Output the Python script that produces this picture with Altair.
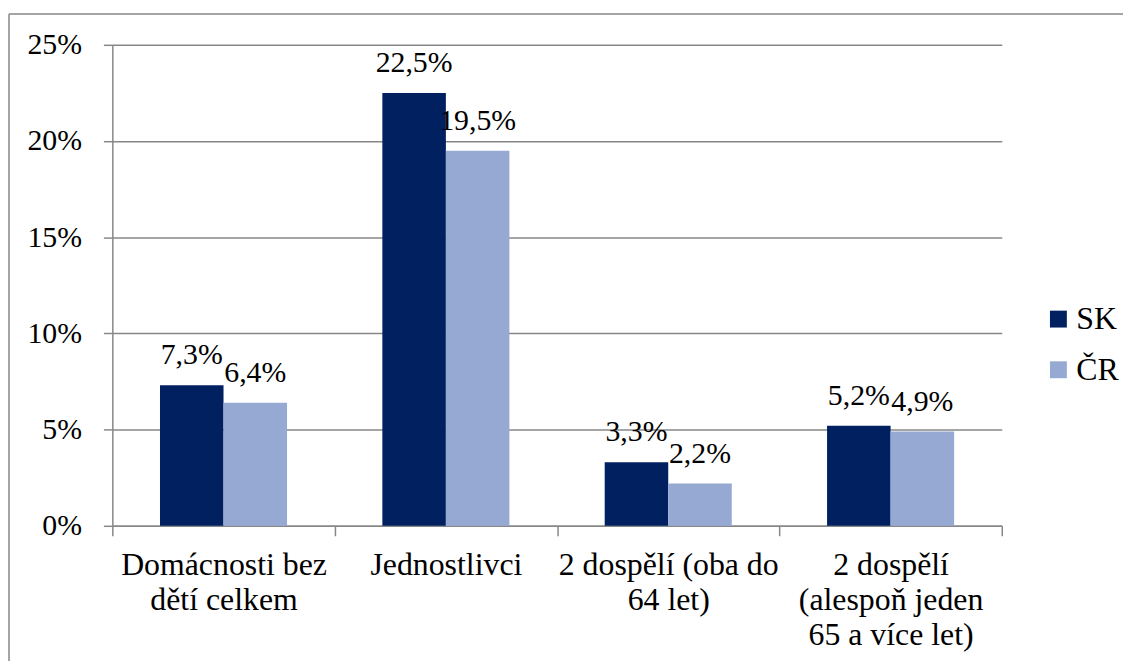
import altair as alt
import pandas as pd

categories = [
    "Domácnosti bez|dětí celkem",
    "Jednostlivci",
    "2 dospělí (oba do|64 let)",
    "2 dospělí|(alespoň jeden|65 a více let)",
]
series = ["SK", "ČR"]
sk_values = [0.073, 0.225, 0.033, 0.052]
cr_values = [0.064, 0.195, 0.022, 0.049]
colors = ["#002060", "#95A9D3"]

rows = []
for c, v in zip(categories, sk_values):
    rows.append({"kat": c, "zeme": "SK", "hodnota": v})
for c, v in zip(categories, cr_values):
    rows.append({"kat": c, "zeme": "ČR", "hodnota": v})
df = pd.DataFrame(rows)

FONT = "Liberation Serif"
GRAY = "#878787"

x_enc = alt.X("kat:N", sort=categories, title=None,
              scale=alt.Scale(paddingInner=0, paddingOuter=0),
              axis=alt.Axis(labelAngle=0, labelExpr="split(datum.label, '|')",
                            labelLineHeight=35, labelFontSize=32, labelFont=FONT,
                            labelColor="black", labelPadding=14, labelLimit=0,
                            tickBand="extent", tickSize=10, tickColor=GRAY, tickWidth=1.5,
                            domainColor=GRAY, domainWidth=1.5, grid=False))
xo_enc = alt.XOffset("zeme:N", sort=series,
                     scale=alt.Scale(paddingInner=0, paddingOuter=0.75))
y_scale = alt.Scale(domain=[0, 0.25])

bars = alt.Chart(df).mark_bar().encode(
    x=x_enc,
    xOffset=xo_enc,
    y=alt.Y("hodnota:Q", scale=y_scale, title=None,
            axis=alt.Axis(format=".0%", values=[0, 0.05, 0.1, 0.15, 0.2, 0.25],
                          labelFontSize=30, labelFont=FONT, labelColor="black",
                          labelPadding=22, tickSize=9, tickColor=GRAY, tickWidth=1.5,
                          domainColor=GRAY, domainWidth=1.5,
                          gridColor=GRAY, gridWidth=1.5)),
    color=alt.Color("zeme:N", sort=series,
                    scale=alt.Scale(domain=series, range=colors),
                    legend=alt.Legend(title=None, orient="none", legendX=936, legendY=260,
                                      symbolType="square", symbolSize=289,
                                      symbolStrokeWidth=0,
                                      labelFontSize=32, labelFont=FONT, labelColor="black",
                                      labelOffset=2, rowPadding=19)),
)

labels = alt.Chart(df).transform_calculate(
    popis="replace(format(datum.hodnota, '.1%'), '.', ',')"
).mark_text(
    baseline="alphabetic", dy=-21, fontSize=30, font=FONT, color="black"
).encode(
    x=alt.X("kat:N", sort=categories),
    xOffset=alt.XOffset("zeme:N", sort=series),
    y=alt.Y("hodnota:Q", scale=y_scale),
    text=alt.Text("popis:N"),
)

frame_left = alt.Chart(pd.DataFrame({"a": [0]})).mark_rule(color=GRAY, strokeWidth=1.5).encode(
    x=alt.value(-104), y=alt.value(-31), y2=alt.value(700)
)
frame_top = alt.Chart(pd.DataFrame({"a": [0]})).mark_rule(color=GRAY, strokeWidth=1.5).encode(
    x=alt.value(-104), x2=alt.value(1100), y=alt.value(-31)
)

chart = alt.layer(bars, labels, frame_left, frame_top).properties(
    width=895, height=484,
    autosize=alt.AutoSizeParams(type="none"),
    padding={"left": 105, "top": 35, "right": 122, "bottom": 134},
    background="white",
).configure(font=FONT).configure_view(stroke=None)

chart.save("out.html", embed_options={"renderer": "svg", "actions": False})
